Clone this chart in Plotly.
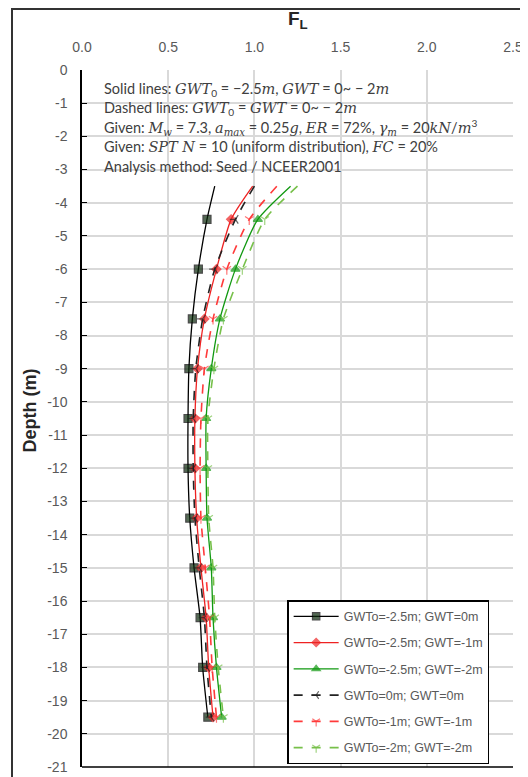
import plotly.graph_objects as go

depth = [-3.5, -4.5, -6, -7.5, -9, -10.5, -12, -13.5, -15, -16.5, -18, -19.5]

fl_black_solid = [0.77, 0.725, 0.675, 0.64, 0.62, 0.615, 0.615, 0.625, 0.65, 0.685, 0.70, 0.73]
fl_red_solid = [0.99, 0.865, 0.78, 0.71, 0.67, 0.655, 0.655, 0.665, 0.69, 0.72, 0.735, 0.76]
fl_green_solid = [1.21, 1.02, 0.89, 0.80, 0.75, 0.72, 0.72, 0.725, 0.75, 0.76, 0.78, 0.81]
fl_black_dash = [1.00, 0.89, 0.77, 0.70, 0.66, 0.645, 0.645, 0.655, 0.68, 0.71, 0.725, 0.75]
fl_red_dash = [1.13, 0.97, 0.84, 0.76, 0.71, 0.69, 0.685, 0.69, 0.715, 0.74, 0.755, 0.78]
fl_green_dash = [1.25, 1.06, 0.93, 0.82, 0.765, 0.73, 0.73, 0.735, 0.76, 0.77, 0.79, 0.82]

series_names = [
    "GWTo=-2.5m; GWT=0m",
    "GWTo=-2.5m; GWT=-1m",
    "GWTo=-2.5m; GWT=-2m",
    "GWTo=0m; GWT=0m",
    "GWTo=-1m; GWT=-1m",
    "GWTo=-2m; GWT=-2m",
]
x_ticks = [0.0, 0.5, 1.0, 1.5, 2.0, 2.5]
y_ticks = list(range(0, -22, -1))

styles = [
    dict(data=fl_black_solid, color="#000000", dash="solid", sym="square", size=8, mcol="#0b2a0b", width=1.3),
    dict(data=fl_red_solid, color="#ee2222", dash="solid", sym="diamond", size=7, mcol="#ee2222", width=1.3),
    dict(data=fl_green_solid, color="#119911", dash="solid", sym="triangle-up", size=8, mcol="#119911", width=1.3),
    dict(data=fl_black_dash, color="#222222", dash="dash", sym="y-left-open", size=7, mcol="#222222", width=1.6),
    dict(data=fl_red_dash, color="#ff3a3a", dash="dash", sym="y-down-open", size=7, mcol="#ff3a3a", width=1.6),
    dict(data=fl_green_dash, color="#77c04a", dash="dash", sym="y-down-open", size=7, mcol="#77c04a", width=1.6),
]

fig = go.Figure()
for i, (name, st) in enumerate(zip(series_names, styles)):
    sizes = [0] + [st["size"]] * (len(depth) - 1)
    fig.add_trace(go.Scatter(
        x=st["data"], y=depth, name=name, mode="lines+markers",
        line=dict(color=st["color"], dash=st["dash"], width=st["width"], shape="spline", smoothing=0.6),
        marker=dict(symbol=st["sym"], size=sizes, color=st["mcol"],
                    line=dict(color=st["color"], width=1.2)),
        legendgroup=f"g{i}",
    ))

fig.update_xaxes(
    side="top", range=[0, 2.5], tickvals=x_ticks, ticktext=[f"{v:.1f}" for v in x_ticks],
    showgrid=True, gridcolor="#d9d9d9", gridwidth=1.5, zeroline=False, automargin=False,
    showline=False, ticks="", ticklabelstandoff=14,
    tickfont=dict(family="Liberation Sans, Arial", size=14, color="#595959"),
)
fig.update_yaxes(
    range=[-21, 0], tickvals=y_ticks, ticktext=[str(v) for v in y_ticks],
    showgrid=True, gridcolor="#d9d9d9", gridwidth=1.5, automargin=False,
    zeroline=False, showline=True, linecolor="#000000", linewidth=1.5,
    ticks="inside", ticklen=5, tickcolor="#000000", ticklabelstandoff=10,
    tickfont=dict(family="Liberation Sans, Arial", size=14, color="#595959"),
)

# axis titles
fig.add_annotation(x=0.5, y=1.0 + 50 / 697, xref="paper", yref="paper", showarrow=False,
                   text="<b>F<sub>L</sub></b>", xanchor="center", yanchor="middle",
                   font=dict(family="Liberation Sans, Arial", size=19, color="#262626"))
fig.add_annotation(x=-53 / 431, y=0.5 + 8 / 697, xref="paper", yref="paper", showarrow=False,
                   text="<b>Depth (m)</b>", textangle=-90, xanchor="center", yanchor="middle",
                   font=dict(family="Liberation Sans, Arial", size=18, color="#262626"))

# bottom frame line of the plot and outer chart frame
fig.add_shape(type="line", xref="paper", yref="paper", x0=0, x1=1, y0=0, y1=0,
              line=dict(color="#000000", width=1.5))
fig.add_shape(type="rect", xref="paper", yref="paper", x0=-70 / 431, x1=1 + 13 / 431,
              y0=-20 / 697, y1=1 + 61 / 697, line=dict(color="#333333", width=2), layer="above")

serif = "font-family:'DejaVu Serif','Liberation Serif';font-style:italic"
def m(t):
    return f"<span style=\"{serif}\">{t}</span>"

note_lines = [
    "Solid lines: " + m("GWT") + "<sub>0</sub> = −2.5" + m("m") + ", " + m("GWT") + " = 0~ − 2" + m("m"),
    "Dashed lines: " + m("GWT") + "<sub>0</sub> = " + m("GWT") + " = 0~ − 2" + m("m"),
    "Given: " + m("M") + "<sub>" + m("w") + "</sub> = 7.3, " + m("a") + "<sub>" + m("max") + "</sub> = 0.25" + m("g") + ", "
    + m("ER") + " = 72%, " + m("γ") + "<sub>" + m("m") + "</sub> = 20" + m("kN") + "/" + m("m") + "<sup>3</sup>",
    "Given: " + m("SPT N") + " = 10 (uniform distribution), " + m("FC") + " = 20%",
    "Analysis method: Seed / NCEER2001",
]
note_y = [-0.6, -1.15, -1.72, -2.3, -2.9]
for t, yv in zip(note_lines, note_y):
    fig.add_annotation(x=0.046, y=yv, xref="paper", yref="y", text=t, showarrow=False,
                       xanchor="left", yanchor="middle",
                       font=dict(family="Lato, Liberation Sans", size=14.5, color="#404040"))

# the page body adds an 8px offset; size the figure so the plot lands where the reference has it
fig.update_layout(
    width=520, height=769,
    margin=dict(l=74, r=15, t=62, b=10),
    paper_bgcolor="white", plot_bgcolor="white",
    showlegend=True,
    legend=dict(x=0.476, y=0.004, xanchor="left", yanchor="bottom",
                bgcolor="white", bordercolor="#000000", borderwidth=1.5,
                font=dict(family="Liberation Sans, Arial", size=12.5, color="#595959"),
                tracegroupgap=7, itemwidth=45),
)

fig.write_html("out.html")
